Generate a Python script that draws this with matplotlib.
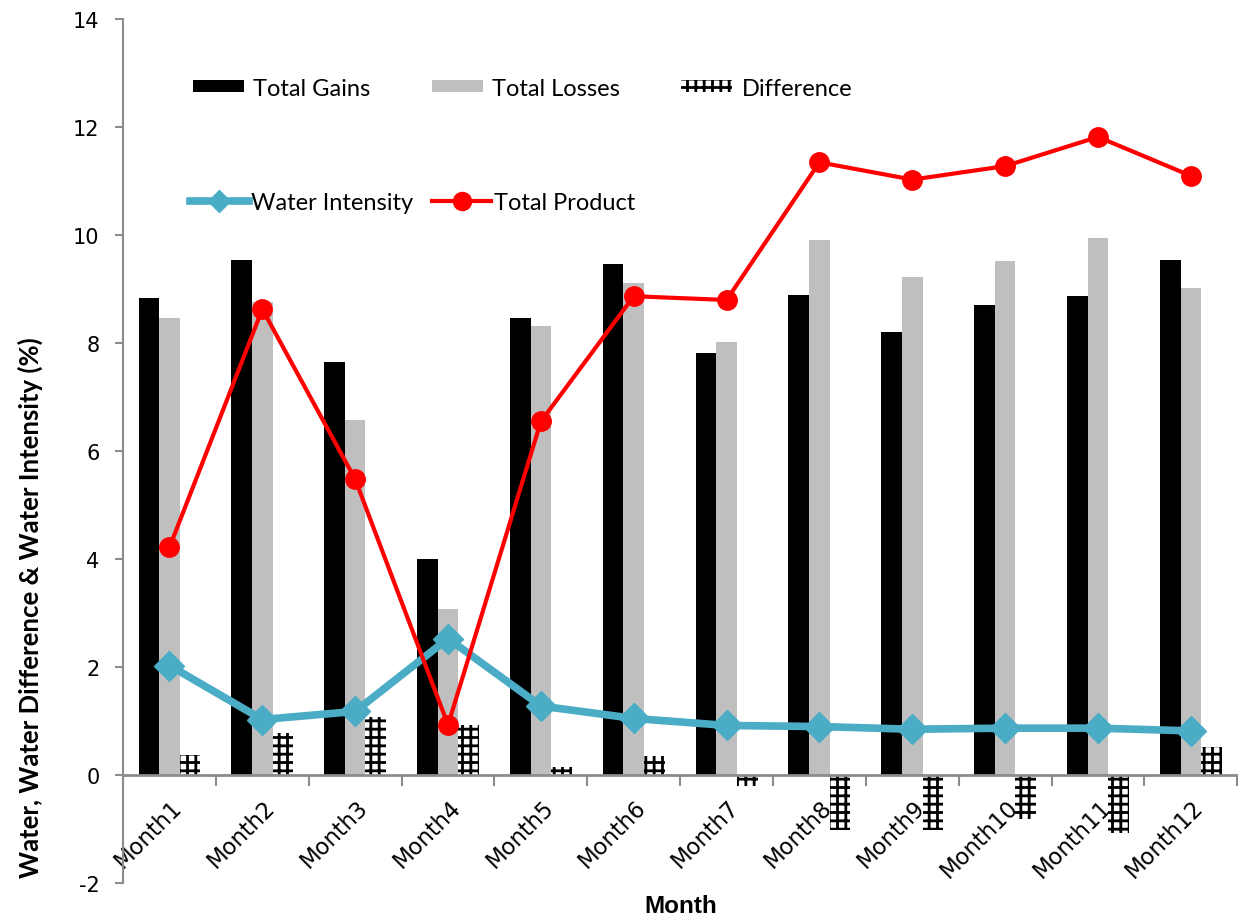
import numpy as np
import matplotlib
matplotlib.use("Agg")
import matplotlib.pyplot as plt
from matplotlib.lines import Line2D
from matplotlib.patches import Patch
import matplotlib.transforms as mtransforms

# ===== data =====
months = ["Month1", "Month2", "Month3", "Month4", "Month5", "Month6",
          "Month7", "Month8", "Month9", "Month10", "Month11", "Month12"]
total_gains = [8.84, 9.55, 7.65, 4.00, 8.46, 9.46, 7.81, 8.89, 8.20, 8.70, 8.87, 9.55]
total_losses = [8.47, 8.77, 6.57, 3.08, 8.31, 9.11, 8.02, 9.91, 9.22, 9.52, 9.94, 9.02]
difference = [0.37, 0.78, 1.08, 0.92, 0.15, 0.35, -0.21, -1.02, -1.02, -0.82, -1.07, 0.53]
water_intensity = [2.03, 1.03, 1.18, 2.53, 1.28, 1.05, 0.92, 0.90, 0.85, 0.87, 0.87, 0.82]
total_product = [4.22, 8.63, 5.48, 0.93, 6.55, 8.87, 8.80, 11.35, 11.03, 11.28, 11.82, 11.10]

BLUE = "#4BACC6"
GRAY = "#BFBFBF"
AXIS_GRAY = "#8C8C8C"

plt.rcParams["hatch.linewidth"] = 2.0
plt.rcParams["axes.unicode_minus"] = False
plt.rcParams["font.family"] = ["Lato", "DejaVu Sans"]

fig = plt.figure(figsize=(12.38, 9.2), dpi=100)
ax = fig.add_axes([0.0994, 0.039, 0.9, 0.939])

x = np.arange(len(months))
w = 1 / 4.5

ax.bar(x - w, total_gains, w, color="black", zorder=2)
ax.bar(x, total_losses, w, color=GRAY, zorder=2)
ax.bar(x + w, difference, w, color="white", edgecolor="black", hatch="++",
       linewidth=0, zorder=2)

ax.plot(x, water_intensity, color=BLUE, lw=5.5, marker="D", ms=15, zorder=3)
ax.plot(x, total_product, color="red", lw=3, marker="o", ms=14, zorder=4)

ax.set_xlim(-0.5, len(months) - 0.5)
ax.set_ylim(-2, 14)
ax.set_yticks(np.arange(-2, 15, 2))

# axes styling like the excel chart
for s in ["top", "right"]:
    ax.spines[s].set_visible(False)
ax.spines["left"].set_color(AXIS_GRAY)
ax.spines["left"].set_linewidth(1.5)
ax.spines["bottom"].set_position(("data", 0))
ax.spines["bottom"].set_color(AXIS_GRAY)
ax.spines["bottom"].set_linewidth(2)

ax.tick_params(axis="y", direction="out", length=6, width=1.5, color=AXIS_GRAY,
               labelsize=15, pad=11)
for lab in ax.get_yticklabels():
    lab.set_fontfamily("DejaVu Sans")

ax.set_xticks(np.arange(-0.5, len(months), 1), minor=True)
ax.set_xticks(x)
ax.set_xticklabels(months, rotation=45, ha="right", rotation_mode="anchor",
                   fontsize=16.3, fontfamily="DejaVu Sans")
ax.tick_params(axis="x", which="major", length=0, pad=14)
ax.tick_params(axis="x", which="minor", direction="out", length=8, width=1.5,
               color=AXIS_GRAY)
offset = mtransforms.ScaledTranslation(1 / 100, 0, fig.dpi_scale_trans)
for lab in ax.get_xticklabels():
    lab.set_transform(lab.get_transform() + offset)

ax.set_ylabel("Water, Water Difference & Water Intensity (%)", fontsize=18.5,
              fontweight="bold")
ax.yaxis.set_label_coords(-0.072, 0.32)
fig.text(0.55, 0.0145, "Month", fontsize=17.5, fontweight="bold",
         family="Liberation Sans", ha="center", va="center")

# legends
h1 = [Patch(facecolor="black"), Patch(facecolor=GRAY),
      Patch(facecolor="white", edgecolor="black", hatch="++", linewidth=0)]
leg1 = ax.legend(h1, ["Total Gains", "Total Losses", "Difference"], ncol=3,
                 loc="center left", bbox_to_anchor=(0.0628, 0.920), frameon=False,
                 fontsize=17, handlelength=2.15, handleheight=0.4,
                 handletextpad=0.4, columnspacing=2.6, borderaxespad=0,
                 borderpad=0)
ax.add_artist(leg1)
h2 = [Line2D([], [], color=BLUE, lw=5.5, marker="D", ms=11),
      Line2D([], [], color="red", lw=3, marker="o", ms=13)]
ax.legend(h2, ["Water Intensity", "Total Product"], ncol=2, loc="center left",
          bbox_to_anchor=(0.06, 0.788), frameon=False, fontsize=17,
          handlelength=2.5, handletextpad=0.1, columnspacing=0.8,
          borderaxespad=0, borderpad=0)

fig.savefig("out.png", dpi=100)
